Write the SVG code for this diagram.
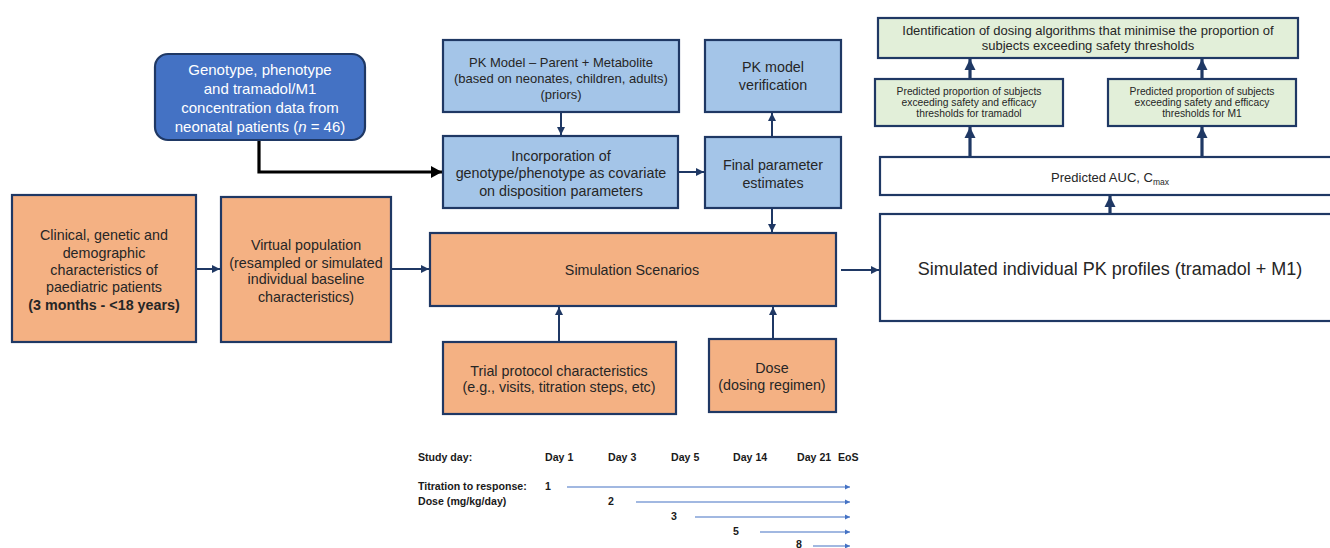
<svg xmlns="http://www.w3.org/2000/svg" width="1330" height="548" viewBox="0 0 1330 548">
<style>
text{font-family:"Liberation Sans",Arial,sans-serif;fill:#262626;text-anchor:middle}
.box{stroke:#1f3864;stroke-width:2.2}
.lb{fill:#a4c5e8}
.or{fill:#f4b183}
.gr{fill:#e2efd9}
.wh{fill:#ffffff}
.c{fill:none;stroke:#1f3864;stroke-width:2}
.ct{fill:none;stroke:#1f3864;stroke-width:3.2}
.tl{fill:none;stroke:#4472c4;stroke-width:1.2}
.t14{font-size:14.3px}
.t13{font-size:13px}
.t12{font-size:13px}
.t10{font-size:10.3px}
.tm{font-family:"Liberation Sans",Arial,sans-serif;font-size:10.6px;font-weight:bold;text-anchor:start;fill:#1a1a1a}
</style>
<defs>
<marker id="a" markerUnits="userSpaceOnUse" markerWidth="9" markerHeight="9" refX="8" refY="4.5" orient="auto"><path d="M0,0.5 L8,4.5 L0,8.5 Z" fill="#1f3864"/></marker>
<marker id="ab" markerUnits="userSpaceOnUse" markerWidth="12" markerHeight="12" refX="11" refY="6" orient="auto"><path d="M0,0 L11,6 L0,12 Z" fill="#000"/></marker>
<marker id="at" markerUnits="userSpaceOnUse" markerWidth="12" markerHeight="12" refX="11" refY="6" orient="auto"><path d="M0,0.5 L11,6 L0,11.5 Z" fill="#1f3864"/></marker>
<marker id="as" markerUnits="userSpaceOnUse" markerWidth="6" markerHeight="6" refX="5" refY="3" orient="auto"><path d="M0,0.5 L5,3 L0,5.5 Z" fill="#4472c4"/></marker>
</defs>

<g id="connectors">
<path d="M259,140 V172 H442" fill="none" stroke="#000" stroke-width="3.2" marker-end="url(#ab)"/>
<path class="c" d="M561,112 V135" marker-end="url(#a)"/>
<path class="c" d="M678,172 H704" marker-end="url(#a)"/>
<path class="c" d="M772,137 V113" marker-end="url(#a)"/>
<path class="c" d="M772,208 V232" marker-end="url(#a)"/>
<path class="c" d="M196,269 H220" marker-end="url(#a)"/>
<path class="c" d="M391,269 H429" marker-end="url(#a)"/>
<path class="c" d="M559,342 V307" marker-end="url(#a)"/>
<path class="c" d="M773,339 V307" marker-end="url(#a)"/>
<path class="c" d="M841,270 H879" marker-end="url(#a)"/>
<path class="ct" d="M1110,214 V196" marker-end="url(#at)"/>
<path class="ct" d="M970,157 V127" marker-end="url(#at)"/>
<path class="ct" d="M1202,157 V127" marker-end="url(#at)"/>
<path class="ct" d="M970,79 V59" marker-end="url(#at)"/>
<path class="ct" d="M1202,79 V59" marker-end="url(#at)"/>
</g>

<g id="genotype">
<rect class="box" x="155" y="54" width="210" height="86" rx="13" fill="#4472c4"/>
<text x="260" y="75" style="font-size:15px;fill:#fff">Genotype, phenotype</text>
<text x="260" y="94" style="font-size:15px;fill:#fff">and tramadol/M1</text>
<text x="260" y="113" style="font-size:15px;fill:#fff">concentration data from</text>
<text x="260" y="132" style="font-size:15px;fill:#fff">neonatal patients (<tspan font-style="italic">n</tspan> = 46)</text>
</g>

<g id="pkmodel">
<rect class="box lb" x="443" y="40" width="236" height="72"/>
<text class="t13" x="561" y="67">PK Model – Parent + Metabolite</text>
<text class="t13" x="561" y="83">(based on neonates, children, adults)</text>
<text class="t13" x="561" y="99">(priors)</text>
</g>

<g id="verification">
<rect class="box lb" x="705" y="40" width="136" height="72"/>
<text class="t14" x="773" y="72">PK model</text>
<text class="t14" x="773" y="90">verification</text>
</g>

<g id="incorporation">
<rect class="box lb" x="443" y="136" width="235" height="72"/>
<text class="t14" x="561" y="161">Incorporation of</text>
<text class="t14" x="561" y="178">genotype/phenotype as covariate</text>
<text class="t14" x="561" y="196">on disposition parameters</text>
</g>

<g id="final">
<rect class="box lb" x="705" y="137" width="136" height="71"/>
<text class="t14" x="773" y="170">Final parameter</text>
<text class="t14" x="773" y="188">estimates</text>
</g>

<g id="clinical">
<rect class="box or" x="12" y="195" width="184" height="147"/>
<text class="t14" x="104" y="240">Clinical, genetic and</text>
<text class="t14" x="104" y="258">demographic</text>
<text class="t14" x="104" y="275">characteristics of</text>
<text class="t14" x="104" y="292">paediatric patients</text>
<text class="t14" x="104" y="310" font-weight="bold">(3 months - &lt;18 years)</text>
</g>

<g id="virtual">
<rect class="box or" x="221" y="197" width="170" height="145"/>
<text class="t14" x="306" y="250">Virtual population</text>
<text class="t14" x="306" y="268">(resampled or simulated</text>
<text class="t14" x="306" y="284">individual baseline</text>
<text class="t14" x="306" y="302">characteristics)</text>
</g>

<g id="simulation">
<rect class="box or" x="430" y="233" width="406" height="73"/>
<text class="t14" x="632" y="275">Simulation Scenarios</text>
</g>

<g id="trial">
<rect class="box or" x="443" y="342" width="233" height="72"/>
<text class="t14" x="559" y="376">Trial protocol characteristics</text>
<text class="t14" x="559" y="392">(e.g., visits, titration steps, etc)</text>
</g>

<g id="dose">
<rect class="box or" x="709" y="339" width="127" height="73"/>
<text class="t14" x="772" y="373">Dose</text>
<text class="t14" x="772" y="390">(dosing regimen)</text>
</g>

<g id="simulated">
<rect class="box wh" x="880" y="214" width="460" height="107"/>
<text x="1110" y="275" style="font-size:18px">Simulated individual PK profiles (tramadol + M1)</text>
</g>

<g id="auc">
<rect class="box wh" x="880" y="157" width="460" height="38"/>
<text x="1110" y="182" class="t12">Predicted AUC, C<tspan font-size="8.5" dy="3">max</tspan></text>
</g>

<g id="proptramadol">
<rect class="box gr" x="875" y="79" width="188" height="47"/>
<text class="t10" x="969" y="95">Predicted proportion of subjects</text>
<text class="t10" x="969" y="106">exceeding safety and efficacy</text>
<text class="t10" x="969" y="117">thresholds for tramadol</text>
</g>

<g id="propm1">
<rect class="box gr" x="1108" y="79" width="188" height="47"/>
<text class="t10" x="1202" y="95">Predicted proportion of subjects</text>
<text class="t10" x="1202" y="106">exceeding safety and efficacy</text>
<text class="t10" x="1202" y="117">thresholds for M1</text>
</g>

<g id="identification">
<rect class="box gr" x="878" y="18" width="420" height="40"/>
<text class="t12" x="1088" y="35">Identification of dosing algorithms that minimise the proportion of</text>
<text class="t12" x="1088" y="50">subjects exceeding safety thresholds</text>
</g>

<g id="timeline">
<text class="tm" x="418" y="461">Study day:</text>
<text class="tm" x="545" y="461">Day 1</text>
<text class="tm" x="608" y="461">Day 3</text>
<text class="tm" x="671" y="461">Day 5</text>
<text class="tm" x="733" y="461">Day 14</text>
<text class="tm" x="797" y="461">Day 21</text>
<text class="tm" x="838" y="461">EoS</text>
<text class="tm" x="418" y="490">Titration to response:</text>
<text class="tm" x="418" y="505">Dose (mg/kg/day)</text>
<text class="tm" x="545" y="490">1</text>
<text class="tm" x="608" y="505">2</text>
<text class="tm" x="671" y="520">3</text>
<text class="tm" x="733" y="535">5</text>
<text class="tm" x="796" y="548">8</text>
<path class="tl" d="M567,487 H850" marker-end="url(#as)"/>
<path class="tl" d="M636,502 H850" marker-end="url(#as)"/>
<path class="tl" d="M695,517 H850" marker-end="url(#as)"/>
<path class="tl" d="M760,532 H850" marker-end="url(#as)"/>
<path class="tl" d="M813,546 H850" marker-end="url(#as)"/>
</g>
</svg>
